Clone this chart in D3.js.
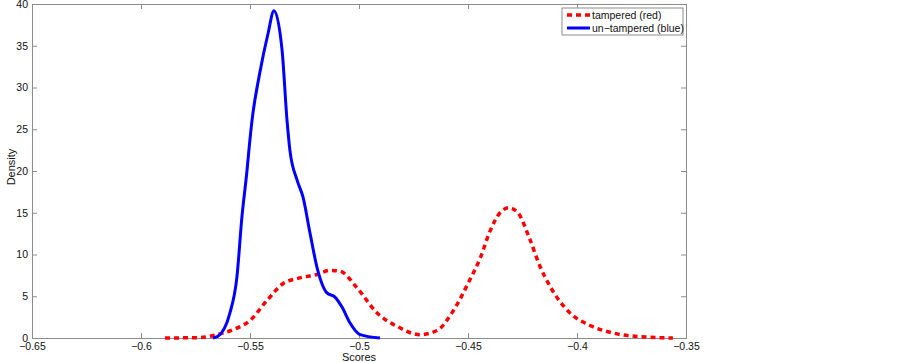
<!DOCTYPE html>
<html>
<head>
<meta charset="utf-8">
<script src="https://cdn.jsdelivr.net/npm/d3@7"></script>
<style>
  body { margin: 0; background: #fff; }
  text { font-family: "Liberation Sans", Arial, sans-serif; }
</style>
</head>
<body>
<div id="chart"></div>
<script>
// density curves
const blueX = [-0.5670, -0.5647, -0.5592, -0.5560, -0.5537, -0.5514, -0.5505, -0.5491, -0.5454, -0.5417,
               -0.5390, -0.5353, -0.5330, -0.5317, -0.5284, -0.5257, -0.5225, -0.5193, -0.5147, -0.5110,
               -0.5078, -0.5041, -0.4995, -0.4904];
const blueY = [0, 0.2, 3.0, 7.3, 14.5, 20.0, 22.5, 26.0, 31.9, 36.5,
               39.2, 34.5, 26.0, 22.5, 18.9, 16.9, 12.6, 8.5, 5.4, 4.9,
               3.7, 1.8, 0.4, 0];

const redX = [-0.5890, -0.5729, -0.5638, -0.5578, -0.5500, -0.5422, -0.5349, -0.5271, -0.5193, -0.5133,
              -0.5087, -0.5009, -0.4917, -0.4826, -0.4720, -0.4642, -0.4569, -0.4491, -0.4445, -0.4399,
              -0.4353, -0.4312, -0.4271, -0.4216, -0.4170, -0.4124, -0.4032, -0.3940, -0.3835, -0.3679, -0.3560];
const redY = [0, 0.05, 0.5, 1.0, 2.1, 4.5, 6.5, 7.2, 7.6, 8.1,
              8.0, 6.0, 3.0, 1.4, 0.4, 0.9, 3.2, 7.0, 9.5, 12.8,
              15.0, 15.6, 15.0, 11.8, 8.6, 6.2, 3.0, 1.5, 0.6, 0.1, 0];

const xTicks = [-0.65, -0.6, -0.55, -0.5, -0.45, -0.4, -0.35];
const yTicks = [0, 5, 10, 15, 20, 25, 30, 35, 40];
const legendLabels = ["tampered (red)", "un\u2212tampered (blue)"];

const W = 903, H = 362;
const margin = { top: 4, right: 217, bottom: 24, left: 32 };
const width = W - margin.left - margin.right,
      height = H - margin.top - margin.bottom;

const svg = d3.select("#chart").append("svg")
    .attr("width", W)
    .attr("height", H);
const g = svg.append("g")
    .attr("transform", `translate(${margin.left},${margin.top})`);

const x = d3.scaleLinear().domain([-0.65, -0.35]).range([0, width]);
const y = d3.scaleLinear().domain([0, 40]).range([height, 0]);

const fmt = d => String(d).replace("-", "\u2212");
const axisColor = "#8c8c8c";

// axes, matlab style: ticks point inward, box on all sides
const xAxis = g.append("g")
    .attr("transform", `translate(0,${height})`)
    .call(d3.axisBottom(x).tickValues(xTicks).tickSize(-5).tickPadding(4.5).tickFormat(fmt));
const xTop = g.append("g")
    .call(d3.axisTop(x).tickValues(xTicks).tickSize(-5).tickFormat(""));
const yAxis = g.append("g")
    .call(d3.axisLeft(y).tickValues(yTicks).tickSize(-5).tickPadding(4));
const yRight = g.append("g")
    .attr("transform", `translate(${width},0)`)
    .call(d3.axisRight(y).tickValues(yTicks).tickSize(-5).tickFormat(""));

[xAxis, xTop, yAxis, yRight].forEach(a => {
    a.select(".domain").attr("stroke", axisColor);
    a.selectAll(".tick line").attr("stroke", axisColor);
    a.selectAll("text").attr("fill", "#111").style("font-size", "10.5px");
});

const line = d3.line()
    .x(d => x(d[0]))
    .y(d => y(d[1]))
    .curve(d3.curveMonotoneX);

g.append("path")
    .datum(redX.map((v, i) => [v, redY[i]]))
    .attr("fill", "none")
    .attr("stroke", "#ff0000")
    .attr("stroke-width", 3.5)
    .attr("stroke-dasharray", "5,4")
    .attr("d", line);

g.append("path")
    .datum(blueX.map((v, i) => [v, blueY[i]]))
    .attr("fill", "none")
    .attr("stroke", "#0000ff")
    .attr("stroke-width", 3)
    .attr("d", line);

// axis labels
g.append("text")
    .attr("x", width / 2)
    .attr("y", height + 23)
    .attr("text-anchor", "middle")
    .style("font-size", "11px")
    .attr("fill", "#111")
    .text("Scores");

g.append("text")
    .attr("transform", `translate(${-17},${height / 2 - 4}) rotate(-90)`)
    .attr("text-anchor", "middle")
    .style("font-size", "11px")
    .attr("fill", "#111")
    .text("Density");

// legend
const lg = g.append("g").attr("transform", `translate(${width - 124},4)`);
lg.append("rect")
    .attr("width", 121).attr("height", 27)
    .attr("fill", "#fff").attr("stroke", axisColor);
const styles = [
    { color: "#ff0000", dash: "5,4", w: 3.5 },
    { color: "#0000ff", dash: null, w: 3 }
];
legendLabels.forEach((lab, i) => {
    const yy = 7 + i * 13;
    lg.append("line")
        .attr("x1", 5).attr("x2", 28).attr("y1", yy).attr("y2", yy)
        .attr("stroke", styles[i].color)
        .attr("stroke-width", styles[i].w)
        .attr("stroke-dasharray", styles[i].dash);
    lg.append("text")
        .attr("x", 30).attr("y", yy + 4)
        .style("font-size", "10.5px")
        .attr("fill", "#111")
        .text(lab);
});
</script>
</body>
</html>
